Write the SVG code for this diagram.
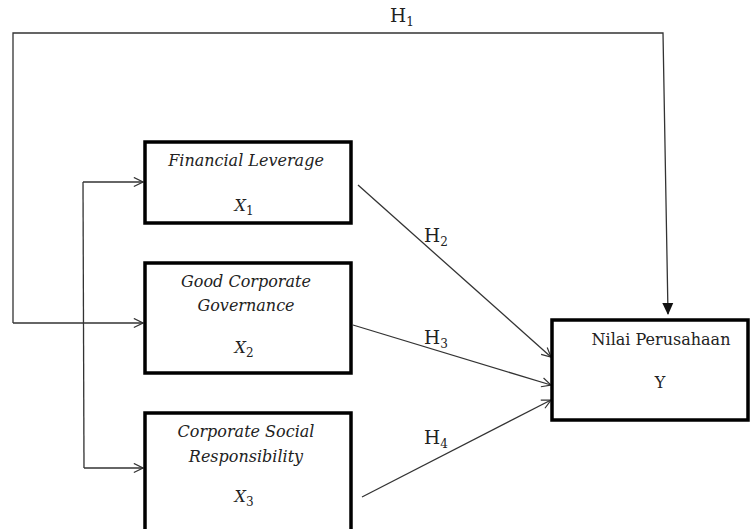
<svg xmlns="http://www.w3.org/2000/svg" width="751" height="529" viewBox="0 0 751 529">
<defs>
<style>
.box{fill:#fff;stroke:#000;stroke-width:3.5}
.ln{fill:none;stroke:#333;stroke-width:1.3}
.t{font-family:"DejaVu Serif","Liberation Serif",serif;font-size:16px;fill:#222}
.it{font-style:italic}
.h{font-family:"DejaVu Serif","Liberation Serif",serif;font-size:18.5px;fill:#222}
.sub{font-size:12px}
</style>
<marker id="open" viewBox="0 0 12 12" refX="11" refY="6" markerWidth="11" markerHeight="11" markerUnits="userSpaceOnUse" orient="auto">
<path d="M1,1 L11,6 L1,11" fill="none" stroke="#333" stroke-width="1.3"/>
</marker>
<marker id="solid" viewBox="0 0 12 12" refX="11" refY="6" markerWidth="12" markerHeight="12" markerUnits="userSpaceOnUse" orient="auto">
<path d="M0,0.5 L12,6 L0,11.5 Z" fill="#111"/>
</marker>
</defs>
<rect width="751" height="529" fill="#fff"/>
<g id="connectors">
<polyline class="ln" points="13,323 13,33 663,33 668,314" marker-end="url(#solid)"/>
<polyline class="ln" points="83,182 143,182" marker-end="url(#open)"/>
<line class="ln" x1="83" y1="182" x2="84" y2="468"/>
<polyline class="ln" points="84,468 143,468" marker-end="url(#open)"/>
<line class="ln" x1="13" y1="323" x2="143" y2="323" marker-end="url(#open)"/>
<line class="ln" x1="358" y1="185" x2="551" y2="357" marker-end="url(#open)"/>
<line class="ln" x1="353" y1="325" x2="551" y2="385" marker-end="url(#open)"/>
<line class="ln" x1="362" y1="497" x2="551" y2="400" marker-end="url(#open)"/>
<text class="h" x="402" y="22" text-anchor="middle">H<tspan class="sub" dy="4">1</tspan></text>
<text class="h" x="424" y="242">H<tspan class="sub" dy="4">2</tspan></text>
<text class="h" x="424" y="344">H<tspan class="sub" dy="4">3</tspan></text>
<text class="h" x="424" y="444">H<tspan class="sub" dy="4">4</tspan></text>
</g>
<g id="x1">
<rect class="box" x="145" y="142" width="206" height="81"/>
<text class="t it" x="246" y="166" text-anchor="middle">Financial Leverage</text>
<text class="t" x="244" y="211" text-anchor="middle"><tspan class="it">X</tspan><tspan class="sub" dy="4">1</tspan></text>
</g>
<g id="x2">
<rect class="box" x="145" y="263" width="206" height="110"/>
<text class="t it" x="246" y="287" text-anchor="middle">Good Corporate</text>
<text class="t it" x="246" y="311" text-anchor="middle">Governance</text>
<text class="t" x="244" y="353" text-anchor="middle"><tspan class="it">X</tspan><tspan class="sub" dy="4">2</tspan></text>
</g>
<g id="x3">
<rect class="box" x="145" y="413" width="206" height="125"/>
<text class="t it" x="246" y="437" text-anchor="middle">Corporate Social</text>
<text class="t it" x="246" y="462" text-anchor="middle">Responsibility</text>
<text class="t" x="244" y="502" text-anchor="middle"><tspan class="it">X</tspan><tspan class="sub" dy="4">3</tspan></text>
</g>
<g id="y">
<rect class="box" x="552" y="320" width="196" height="100"/>
<text class="t" x="661" y="345" text-anchor="middle">Nilai Perusahaan</text>
<text class="t" x="660" y="388" text-anchor="middle">Y</text>
</g>
</svg>
